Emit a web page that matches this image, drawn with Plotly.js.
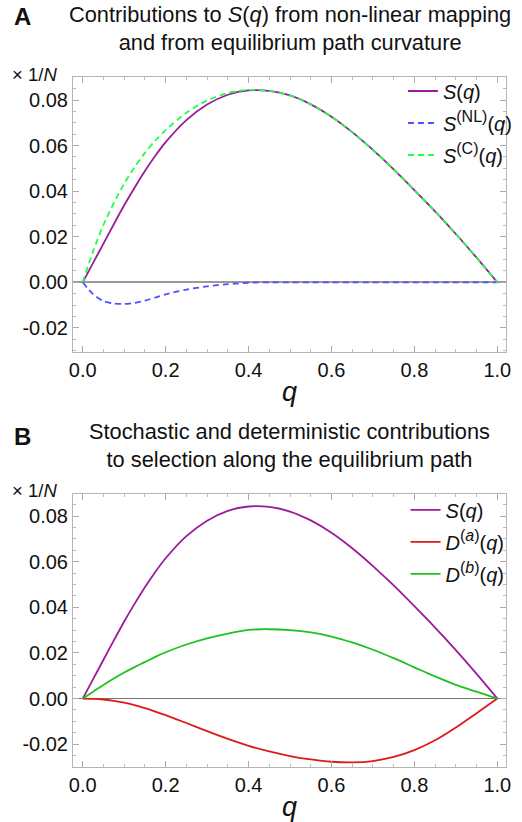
<!DOCTYPE html>
<html>
<head>
<meta charset="utf-8">
<script src="https://cdn.plot.ly/plotly-3.0.1.min.js"></script>
<style>
html,body{margin:0;padding:0;background:#fff;}
#chart{width:522px;height:822px;}
</style>
</head>
<body>
<div id="chart"></div>
<script>
// ---- data ----
const q = [0,0.025,0.05,0.075,0.1,0.125,0.15,0.175,0.2,0.25,0.3,0.35,0.4,0.45,0.5,0.55,0.6,0.65,0.7,0.75,0.8,0.85,0.9,0.95,1.0];
const S = [0,0.0085,0.0170,0.0255,0.0338,0.0415,0.0488,0.0555,0.0615,0.0712,0.0780,0.0823,0.0842,0.0840,0.0820,0.0781,0.0727,0.0659,0.0581,0.0496,0.0405,0.0311,0.0212,0.0108,0];
const S_NL = [0,-0.0052,-0.0082,-0.0093,-0.0095,-0.0090,-0.0080,-0.0067,-0.0053,-0.0032,-0.0018,-0.0008,-0.0002,0,0,0,0,0,0,0,0,0,0,0,0];
const S_C = [0,0.0137,0.0252,0.0348,0.0433,0.0505,0.0568,0.0622,0.0668,0.0744,0.0798,0.0831,0.0844,0.0840,0.0820,0.0781,0.0727,0.0659,0.0581,0.0496,0.0405,0.0311,0.0212,0.0108,0];
const D_a = [0,-0.0001,-0.0004,-0.0010,-0.0018,-0.0029,-0.0042,-0.0057,-0.0073,-0.0107,-0.0143,-0.0177,-0.0207,-0.0232,-0.0252,-0.0267,-0.0277,-0.0280,-0.0274,-0.0256,-0.0226,-0.0183,-0.0127,-0.0064,0];
const D_b = [0,0.0030,0.0060,0.0088,0.0114,0.0138,0.0160,0.0183,0.0203,0.0237,0.0264,0.0285,0.0301,0.0304,0.0300,0.0290,0.0272,0.0246,0.0214,0.0177,0.0137,0.0097,0.0060,0.0030,0];

const xTickVals = [0,0.2,0.4,0.6,0.8,1.0];
const xTickText = ['0.0','0.2','0.4','0.6','0.8','1.0'];
const yTickVals = [-0.02,0,0.02,0.04,0.06,0.08];
const yTickText = ['-0.02','0.00','0.02','0.04','0.06','0.08'];

const titleA = 'Contributions to <i>S</i>(<i>q</i>) from non-linear mapping<br>and from equilibrium path curvature';
const titleB = 'Stochastic and deterministic contributions<br>to selection along the equilibrium path';

// ---- styling ----
const FONT = 'Liberation Sans, Arial, sans-serif';
const PURPLE = '#9b1b9b', BLUE = '#5050ff', LGREEN = '#22ff44', RED = '#dd1a1a', DGREEN = '#1ec21e';
const LW = 1.8;
const DASH = '6px,4px';
const sup = t => '<sup><span style="font-size:16px">' + t + '</span></sup>';

const traces = [
  {x:q, y:S, xaxis:'x', yaxis:'y', name:'<i>S</i>(<i>q</i>)', mode:'lines', line:{color:PURPLE, width:LW, shape:'spline', smoothing:0.8}, legend:'legend', legendgroup:'a1'},
  {x:q, y:S_NL, xaxis:'x', yaxis:'y', name:'<i>S</i>' + sup('(NL)') + '(<i>q</i>)', mode:'lines', line:{color:BLUE, width:LW, dash:DASH, shape:'spline', smoothing:0.8}, legend:'legend', legendgroup:'a2'},
  {x:q, y:S_C, xaxis:'x', yaxis:'y', name:'<i>S</i>' + sup('(C)') + '(<i>q</i>)', mode:'lines', line:{color:LGREEN, width:LW, dash:DASH, shape:'spline', smoothing:0.8}, legend:'legend', legendgroup:'a3'},
  {x:q, y:S, xaxis:'x2', yaxis:'y2', name:'<i>S</i>(<i>q</i>)', mode:'lines', line:{color:PURPLE, width:LW, shape:'spline', smoothing:0.8}, legend:'legend2', legendgroup:'b1'},
  {x:q, y:D_a, xaxis:'x2', yaxis:'y2', name:'<i>D</i>' + sup('(<i>a</i>)') + '(<i>q</i>)', mode:'lines', line:{color:RED, width:LW, shape:'spline', smoothing:0.8}, legend:'legend2', legendgroup:'b2'},
  {x:q, y:D_b, xaxis:'x2', yaxis:'y2', name:'<i>D</i>' + sup('(<i>b</i>)') + '(<i>q</i>)', mode:'lines', line:{color:DGREEN, width:LW, shape:'spline', smoothing:0.8}, legend:'legend2', legendgroup:'b3'}
];

function xAxis(anchor){
  return {
    anchor:anchor, domain:[0,1], range:[-0.0235,1.021],
    tickvals:xTickVals, ticktext:xTickText,
    ticks:'inside', ticklen:6, tickwidth:1, tickcolor:'#aaaaaa',
    minor:{ticks:'inside', dtick:0.05, tick0:0, ticklen:3, tickcolor:'#bbbbbb', showgrid:false},
    showline:true, linecolor:'#b5b5b5', linewidth:1, mirror:'allticks',
    showgrid:false, zeroline:false,
    tickfont:{family:FONT, size:20, color:'#111'},
    title:{text:'<i>q</i>', font:{family:FONT, size:27, color:'#111'}, standoff:2}
  };
}
function yAxis(anchor, domain, range, zc, zw){
  return {
    anchor:anchor, domain:domain, range:range,
    tickvals:yTickVals, ticktext:yTickText,
    ticks:'inside', ticklen:6, tickwidth:1, tickcolor:'#aaaaaa',
    minor:{ticks:'inside', dtick:0.005, tick0:0, ticklen:3, tickcolor:'#bbbbbb', showgrid:false},
    showline:true, linecolor:'#b5b5b5', linewidth:1, mirror:'allticks',
    showgrid:false, zeroline:true, zerolinecolor:zc, zerolinewidth:zw,
    tickfont:{family:FONT, size:20, color:'#111'}
  };
}

const layout = {
  width:522, height:822,
  margin:{l:73, r:5, t:77, b:55},
  paper_bgcolor:'#fff', plot_bgcolor:'#fff',
  showlegend:true,
  xaxis:xAxis('y'),
  yaxis:yAxis('x', [0.6014,1], [-0.0306,0.0901], '#9a9a9a', 2),
  xaxis2:xAxis('y2'),
  yaxis2:yAxis('x2', [0,0.3957], [-0.0300,0.0897], '#777777', 1),
  legend:{x:0.762, y:1.008, xanchor:'left', yanchor:'top', bgcolor:'rgba(0,0,0,0)', borderwidth:0,
          font:{family:FONT, size:20, color:'#111'}, tracegroupgap:3, itemwidth:30},
  legend2:{x:0.768, y:0.401, xanchor:'left', yanchor:'top', bgcolor:'rgba(0,0,0,0)', borderwidth:0,
          font:{family:FONT, size:20, color:'#111'}, tracegroupgap:3, itemwidth:30},
  annotations:[
    {xref:'paper', yref:'paper', x:0.5, y:1.0696, xanchor:'center', yanchor:'middle', showarrow:false,
     text:titleA, font:{family:FONT, size:21.8, color:'#111'}},
    {xref:'paper', yref:'paper', x:0.5, y:0.466, xanchor:'center', yanchor:'middle', showarrow:false,
     text:titleB, font:{family:FONT, size:21.8, color:'#111'}},
    {xref:'paper', yref:'paper', x:-0.117, y:1.0884, xanchor:'center', yanchor:'middle', showarrow:false,
     text:'<b>A</b>', font:{family:FONT, size:24, color:'#111'}},
    {xref:'paper', yref:'paper', x:-0.117, y:0.4797, xanchor:'center', yanchor:'middle', showarrow:false,
     text:'<b>B</b>', font:{family:FONT, size:24, color:'#111'}},
    {xref:'paper', yref:'paper', x:-0.146, y:1.003, xanchor:'left', yanchor:'middle', showarrow:false,
     text:'× 1/<i>N</i>', font:{family:FONT, size:18.5, color:'#111'}},
    {xref:'paper', yref:'paper', x:-0.146, y:0.4014, xanchor:'left', yanchor:'middle', showarrow:false,
     text:'× 1/<i>N</i>', font:{family:FONT, size:18.5, color:'#111'}}
  ]
};

Plotly.newPlot('chart', traces, layout, {displayModeBar:false, staticPlot:true});
</script>
</body>
</html>
